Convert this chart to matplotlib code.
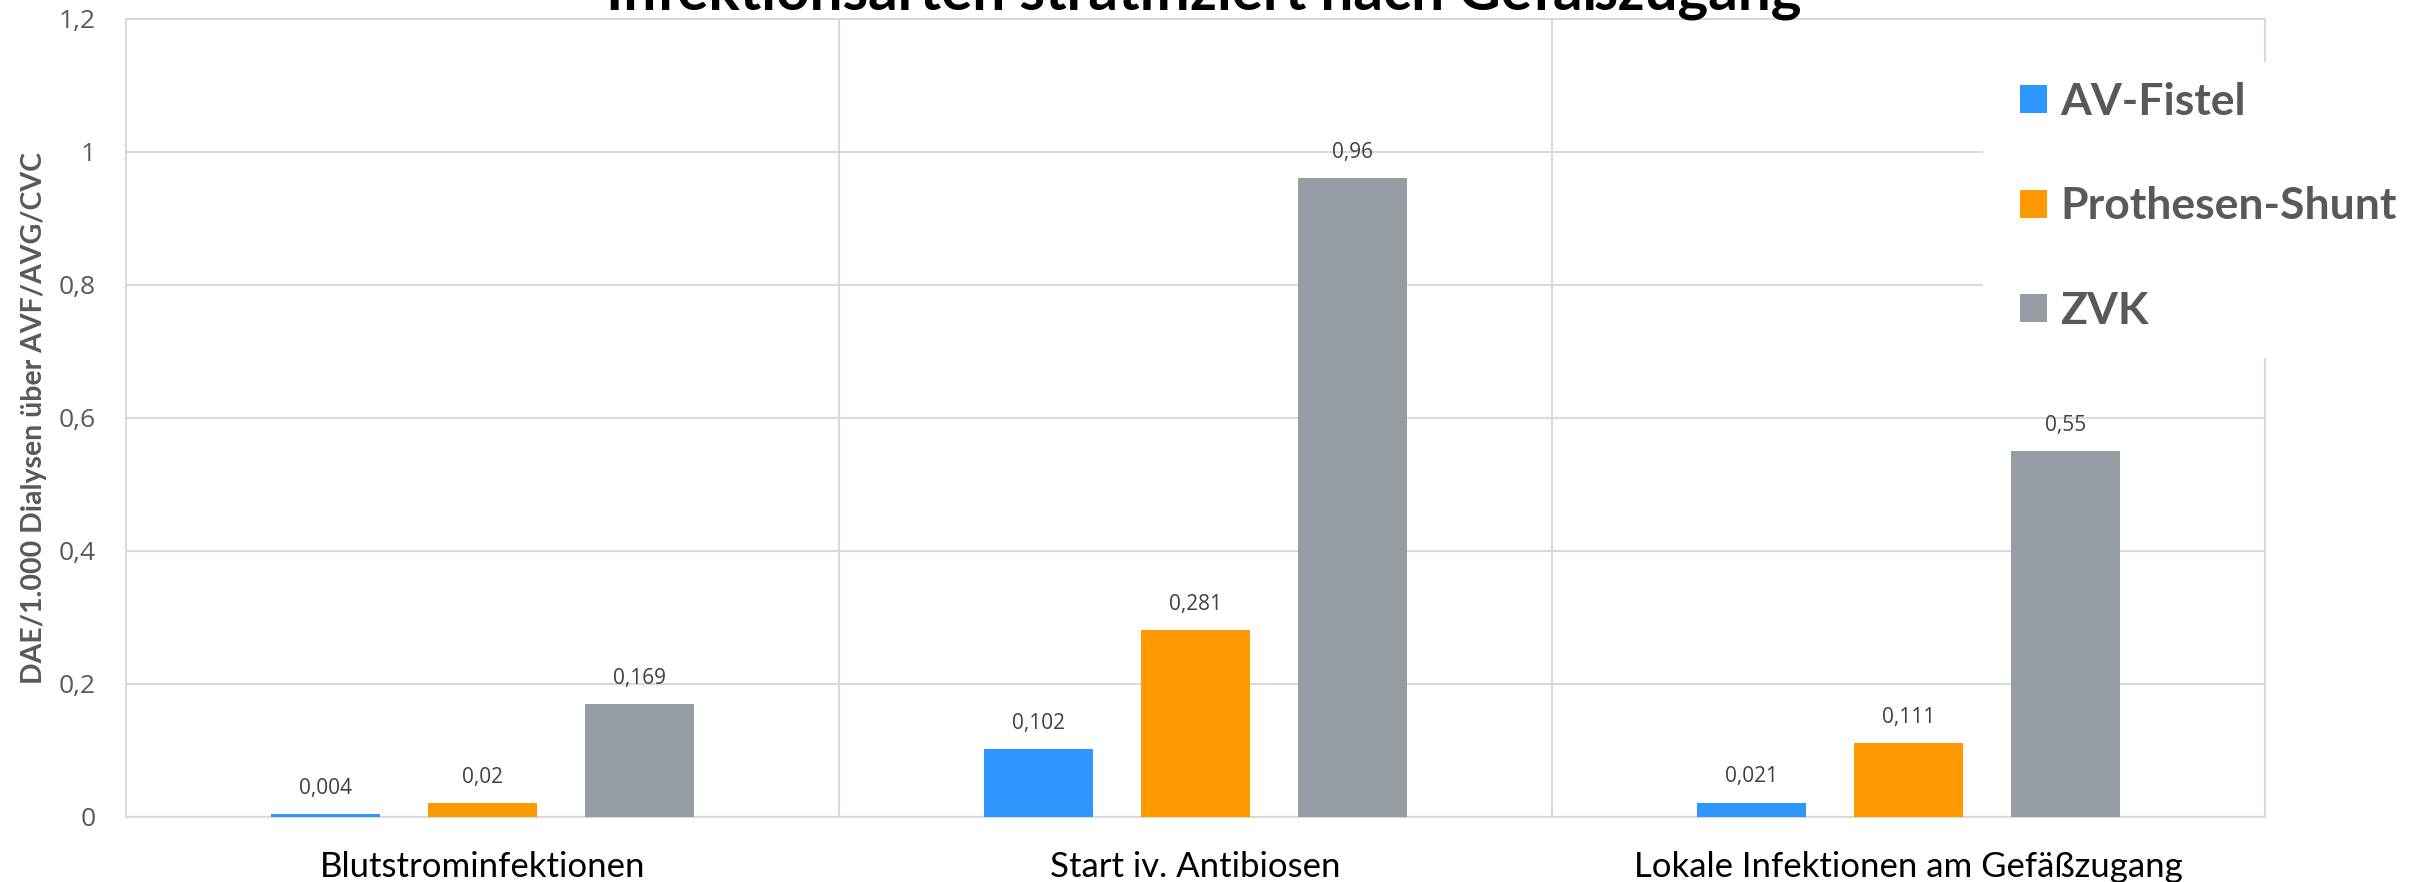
import matplotlib
matplotlib.use("Agg")
import matplotlib.pyplot as plt
import numpy as np
from matplotlib.patches import Patch, Rectangle

# Infection rates per 1,000 dialyses by vascular access type
categories = ["Blutstrominfektionen", "Start iv. Antibiosen", "Lokale Infektionen am Gefäßzugang"]
series_names = ["AV-Fistel", "Prothesen-Shunt", "ZVK"]
av_fistel = [0.004, 0.102, 0.021]
prothesen_shunt = [0.02, 0.281, 0.111]
zvk = [0.169, 0.96, 0.55]
y_ticks = [0, 0.2, 0.4, 0.6, 0.8, 1.0, 1.2]
y_tick_labels = ["0", "0,2", "0,4", "0,6", "0,8", "1", "1,2"]

colors = ["#2E96FF", "#FF9900", "#959CA3"]
grid_color = "#D9D9D9"
text_gray = "#595959"
label_gray = "#404040"

plt.rcParams["font.family"] = ["Lato", "DejaVu Sans"]

W, H = 2420, 882
fig = plt.figure(figsize=(W / 100, H / 100), dpi=100)
fig.patch.set_facecolor("white")

ax_left, ax_right = 126 / W, 2265 / W
ax_top, ax_bottom = 1 - 18.7 / H, 1 - 816.7 / H
ax = fig.add_axes([ax_left, ax_bottom, ax_right - ax_left, ax_top - ax_bottom])

x = np.arange(len(categories))
width = 0.153
offset = 0.22
all_series = [av_fistel, prothesen_shunt, zvk]
for i, (vals, name, col) in enumerate(zip(all_series, series_names, colors)):
    bars = ax.bar(x + (i - 1) * offset, vals, width, color=col, label=name, zorder=3)
    ax.bar_label(bars, labels=[f"{v:g}".replace(".", ",") for v in vals],
                 padding=11, fontsize=15, color=label_gray, zorder=4,
                 family=["Open Sans", "DejaVu Sans"])

ax.set_xlim(-0.5, len(categories) - 0.5)
ax.set_ylim(0, 1.2)
ax.set_yticks(y_ticks)
ax.set_yticklabels(y_tick_labels, fontsize=19, color=text_gray, family=["Open Sans", "DejaVu Sans"])
ax.set_xticks(x)
ax.set_xticklabels(categories, fontsize=25, color="black")
ax.tick_params(axis="both", length=0)
ax.tick_params(axis="y", pad=22)
ax.tick_params(axis="x", pad=25)

ax.yaxis.grid(True, color=grid_color, linewidth=1.5, zorder=0)
for xb in [0.5, 1.5]:
    ax.axvline(xb, color=grid_color, linewidth=1.5, zorder=0)
for side in ["left", "right", "top", "bottom"]:
    ax.spines[side].set_color(grid_color)
    ax.spines[side].set_linewidth(1.5)

ax.set_ylabel("DAE/1.000 Dialysen über AVF/AVG/CVC", fontsize=20.5, fontweight="bold",
              color=text_gray, labelpad=8)

fig.text(1204 / W, 1 - 10 / H, "Infektionsarten stratifiziert nach Gefäßzugang",
         ha="center", va="baseline", fontsize=42, fontweight="bold", color="black")

# white legend area overlapping the right edge of the plot
fig.patches.append(Rectangle((1983 / W, 1 - 358 / H), (W - 1983) / W, (358 - 62) / H,
                             transform=fig.transFigure, facecolor="white",
                             edgecolor="none", zorder=1))

handles = [Patch(facecolor=c, edgecolor="none") for c in colors]
leg = fig.legend(handles, series_names, loc="upper left",
                 bbox_to_anchor=(2020 / W, 1 - 82 / H),
                 prop={"size": 32, "weight": "bold"}, frameon=False,
                 handlelength=0.6, handleheight=0.6, handletextpad=0.3,
                 labelspacing=1.45, borderpad=0, borderaxespad=0)
leg.set_zorder(5)
for t in leg.get_texts():
    t.set_color(text_gray)

fig.savefig("out.png", dpi=100, facecolor="white")
